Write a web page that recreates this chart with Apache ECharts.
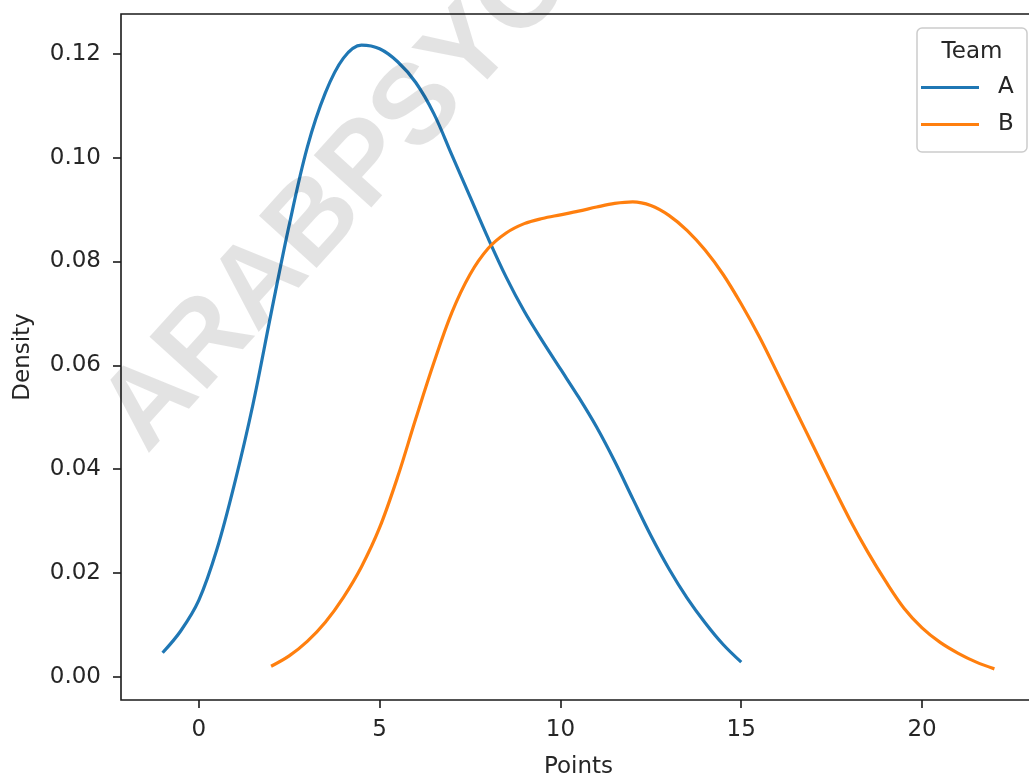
<!DOCTYPE html>
<html>
<head>
<meta charset="utf-8">
<script src="https://cdn.jsdelivr.net/npm/echarts@6/dist/echarts.min.js"></script>
<style>
html,body{margin:0;padding:0;background:#fff;}
#chart{width:1029px;height:778px;}
</style>
</head>
<body>
<div id="chart"></div>
<script>
// ---- data (KDE curves) ----
const teams = ['A', 'B'];
const pointsA = [-1.0, -0.5, 0.0, 0.5, 1.0, 1.5, 2.0, 2.5, 3.0, 3.5, 4.0, 4.5, 5.0, 5.5, 6.0, 6.5, 7.0, 7.5, 8.0, 8.5, 9.0, 9.5, 10.0, 10.5, 11.0, 11.5, 12.0, 12.5, 13.0, 13.5, 14.0, 14.5, 15.0];
const densityA = [0.0046, 0.0088, 0.0147, 0.0245, 0.0375, 0.0525, 0.0700, 0.0870, 0.1020, 0.1125, 0.1192, 0.1217, 0.1210, 0.1185, 0.1145, 0.1085, 0.1005, 0.0925, 0.0845, 0.0770, 0.0704, 0.0647, 0.0593, 0.0539, 0.0481, 0.0415, 0.0343, 0.0272, 0.0208, 0.0152, 0.0104, 0.0062, 0.0028];
const pointsB = [2.0, 2.5, 3.0, 3.5, 4.0, 4.5, 5.0, 5.5, 6.0, 6.5, 7.0, 7.5, 8.0, 8.5, 9.0, 9.5, 10.0, 10.5, 11.0, 11.5, 12.0, 12.5, 13.0, 13.5, 14.0, 14.5, 15.0, 15.5, 16.0, 16.5, 17.0, 17.5, 18.0, 18.5, 19.0, 19.5, 20.0, 20.5, 21.0, 21.5, 22.0];
const densityB = [0.0020, 0.0040, 0.0068, 0.0105, 0.0153, 0.0212, 0.0287, 0.0385, 0.0497, 0.0605, 0.0702, 0.0775, 0.0825, 0.0855, 0.0873, 0.0883, 0.0890, 0.0897, 0.0905, 0.0912, 0.0915, 0.0908, 0.0889, 0.0860, 0.0822, 0.0775, 0.0718, 0.0655, 0.0585, 0.0514, 0.0443, 0.0372, 0.0303, 0.0240, 0.0183, 0.0132, 0.0094, 0.0066, 0.0045, 0.0028, 0.0015];
const xTicks = [0, 5, 10, 15, 20];
const yTicks = [0, 0.02, 0.04, 0.06, 0.08, 0.10, 0.12];
const xLabel = 'Points';
const yLabel = 'Density';
const legendTitle = 'Team';
const watermark = 'ARABPSYCHOLOGY';

const colors = ['#1f77b4', '#ff7f0e'];
const FONT = 'DejaVu Sans';
const TXT = '#262626';

const pair = (xs, ys) => xs.map((x, i) => [x, ys[i]]);

const chart = echarts.init(document.getElementById('chart'), null, {renderer: 'canvas'});
chart.setOption({
  animation: false,
  backgroundColor: '#ffffff',
  grid: {
    left: 121, top: 14, width: 915, height: 686,
    outerBoundsMode: 'none', containLabel: false,
    show: true, borderColor: '#1a1a1a', borderWidth: 1.6, backgroundColor: 'transparent'
  },
  xAxis: {
    type: 'value', min: -2.15, max: 23.15,
    name: xLabel, nameLocation: 'middle', nameGap: 56,
    nameTextStyle: {fontFamily: FONT, fontSize: 23, color: TXT},
    axisLine: {show: false, onZero: false},
    splitLine: {show: false},
    axisTick: {show: true, customValues: xTicks, length: 8, lineStyle: {color: '#1a1a1a', width: 1.6}},
    axisLabel: {customValues: xTicks, fontFamily: FONT, fontSize: 23, color: TXT, margin: 19,
      formatter: v => String(v)}
  },
  yAxis: {
    type: 'value', min: -0.0045, max: 0.1277,
    name: yLabel, nameLocation: 'middle', nameGap: 86, nameRotate: 90,
    nameTextStyle: {fontFamily: FONT, fontSize: 23, color: TXT},
    axisLine: {show: false, onZero: false},
    splitLine: {show: false},
    axisTick: {show: true, customValues: yTicks, length: 8, lineStyle: {color: '#1a1a1a', width: 1.6}},
    axisLabel: {customValues: yTicks, fontFamily: FONT, fontSize: 23, color: TXT, margin: 20,
      formatter: v => v.toFixed(2)}
  },
  legend: {
    data: teams,
    orient: 'vertical',
    left: 921, top: 76,
    padding: 0, z: 6,
    itemWidth: 58, itemHeight: 14, itemGap: 14,
    icon: 'path://M0,0 L58,0 L58,3 L0,3 Z',
    textStyle: {fontFamily: FONT, fontSize: 23, color: TXT, padding: [0, 0, 0, 14]}
  },
  graphic: [
    {
      type: 'rect', z: 3,
      shape: {x: 917, y: 28, width: 110, height: 124, r: 5},
      style: {fill: 'rgba(255,255,255,0.8)', stroke: '#cccccc', lineWidth: 1.5}
    },
    {
      type: 'text', z: 7,
      x: 972, y: 52,
      style: {text: legendTitle, font: '23px "DejaVu Sans"', fill: TXT, align: 'center', verticalAlign: 'middle'}
    },
    {
      type: 'text', z: 100,
      x: 124, y: 434, rotation: 47.8 * Math.PI / 180,
      style: {text: watermark, font: 'bold 113px "Liberation Sans"', fill: 'rgba(0,0,0,0.11)', align: 'left', verticalAlign: 'middle'}
    }
  ],
  series: [
    {
      name: teams[0], type: 'line', data: pair(pointsA, densityA),
      smooth: 0.35, symbol: 'none', lineStyle: {width: 3.2, color: colors[0]}, itemStyle: {color: colors[0]}
    },
    {
      name: teams[1], type: 'line', data: pair(pointsB, densityB),
      smooth: 0.35, symbol: 'none', lineStyle: {width: 3.2, color: colors[1]}, itemStyle: {color: colors[1]}
    }
  ]
});
</script>
</body>
</html>
